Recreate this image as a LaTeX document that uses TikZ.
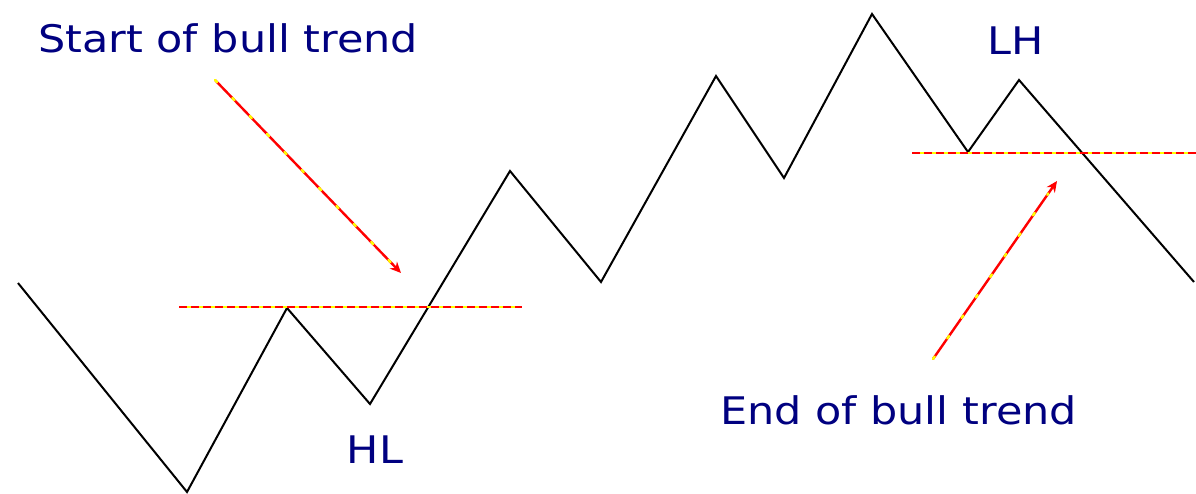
\documentclass[tikz,border=0pt]{standalone}
\usepackage{fontspec}
\setmainfont{DejaVu Sans}
\newfontfamily\widefont[FakeStretch=1.13]{DejaVu Sans}
\usetikzlibrary{arrows.meta,calc}
\definecolor{navytxt}{RGB}{0,0,128}
\definecolor{pyellow}{RGB}{255,255,0}
\definecolor{pred}{RGB}{255,0,0}
\tikzset{
  price/.style={draw=black, line width=2pt},
  label/.style={text=navytxt, font=\widefont\fontsize{38}{40}\selectfont, inner sep=0pt},
  lvl/.style={line width=2.6pt},
  ptr/.style={line width=2.4pt, line cap=round}
}
\begin{document}
\begin{tikzpicture}[x=1pt,y=-1pt]
\useasboundingbox (0,0) rectangle (1196,494);
% zigzag
\coordinate (p0) at (18,283);
\coordinate (p1) at (187,492);
\coordinate (p2) at (287,308);
\coordinate (p3) at (370,404);
\coordinate (p4) at (510,171);
\coordinate (p5) at (601,282);
\coordinate (p6) at (716,76);
\coordinate (p7) at (784,178);
\coordinate (p8) at (872,14);
\coordinate (p9) at (968,152);
\coordinate (p10) at (1019,80);
\coordinate (p11) at (1194,282);
\draw[price] (p0)--(p1)--(p2)--(p3)--(p4)--(p5)--(p6)--(p7)--(p8)--(p9)--(p10)--(p11);
% levels
\coordinate (l1a) at (179,307);
\coordinate (l1b) at (522,307);
\coordinate (l2a) at (912,153);
\coordinate (l2b) at (1196,153);
\draw[lvl, pyellow] (l1a)--(l1b);
\draw[lvl, pred, dash pattern=on 8pt off 4pt] (l1a)--(l1b);
\draw[lvl, pyellow] (l2a)--(l2b);
\draw[lvl, pred, dash pattern=on 8pt off 4pt] (l2a)--(l2b);
% pointers
\coordinate (a1s) at (215,80);
\coordinate (a1e) at (401,273);
\coordinate (a2s) at (933,359);
\coordinate (a2e) at (1057,181);
\draw[ptr, pred, -{Stealth[open,length=11pt,width=10pt]}] (a1s)--(a1e);
\draw[ptr, pyellow, dash pattern=on 3pt off 22pt] (a1s)--($(a1s)!0.95!(a1e)$);
\draw[ptr, pred, -{Stealth[open,length=11pt,width=10pt]}] (a2s)--(a2e);
\draw[ptr, pyellow, dash pattern=on 3pt off 22pt] (a2s)--($(a2s)!0.93!(a2e)$);
% labels
\node[label, anchor=west] (t1) at (38,38) {Start of bull trend};
\node[label, anchor=west] (t2) at (720,410) {End of bull trend};
\node[label] (t3) at (375,450) {HL};
\node[label] (t4) at (1016,41) {LH};
\end{tikzpicture}
\end{document}
